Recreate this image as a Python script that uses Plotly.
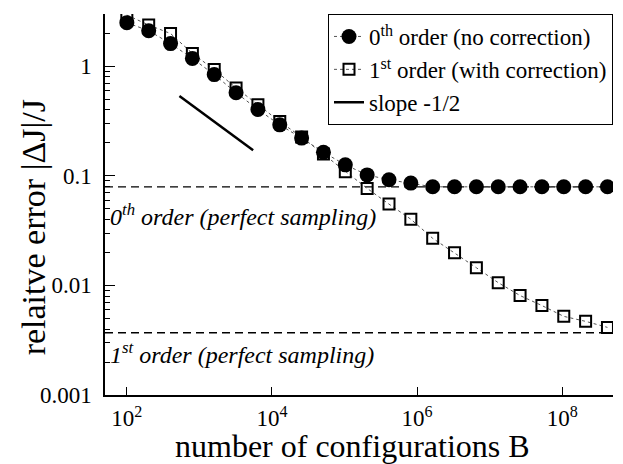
import math
import plotly.graph_objects as go

# number of configurations B
B = [100, 200, 400, 800, 1600, 3200, 6400, 12800, 25600, 51200, 102400, 204800,
     409600, 819200, 1638400, 3276800, 6553600, 13107200, 26214400, 52428800,
     104857600, 209715200, 419430400]

err_0th = [2.50, 2.11, 1.61, 1.18, 0.839, 0.574, 0.403, 0.292, 0.221, 0.164, 0.126, 0.102,
           0.092, 0.0859, 0.0794, 0.0794, 0.0794, 0.0794, 0.0794, 0.0794, 0.0794, 0.0794, 0.0794]

err_1st = [2.93, 2.38, 1.99, 1.31, 0.933, 0.634, 0.446, 0.313, 0.226, 0.158, 0.109, 0.0768,
           0.0552, 0.0402, 0.0269, 0.0199, 0.0145, 0.0106, 0.00808, 0.00655, 0.00522, 0.0047, 0.00414]

slope_x = [530, 5500]
slope_y = [0.535, 0.171]

perfect_0th = 0.0794
perfect_1st = 0.0037
x_span = [50, 5e8]

x_tickvals = [1e2, 1e4, 1e6, 1e8]
x_ticktext = ["10<sup>2</sup>", "10<sup>4</sup>", "10<sup>6</sup>", "10<sup>8</sup>"]
y_tickvals = [0.001, 0.01, 0.1, 1]
y_ticktext = ["0.001", "0.01", "0.1", "1"]

label_0th_y = 0.044
label_1st_y = 0.0024

x_title = "number of configurations B"
y_title = "relaitve error |ΔJ|/J"

FONT = "Liberation Serif, Times New Roman, Times, serif"

fig = go.Figure()

# dashed reference lines (perfect sampling)
for yv in (perfect_0th, perfect_1st):
    fig.add_trace(go.Scatter(x=x_span, y=[yv, yv], mode="lines",
                             line=dict(color="black", width=1.3, dash="8px,5px"),
                             showlegend=False, hoverinfo="skip"))

fig.add_trace(go.Scatter(
    x=B, y=err_1st, mode="lines+markers",
    name="1<sup>st</sup> order (with correction)",
    line=dict(color="#555555", width=1, dash="dot"),
    marker=dict(symbol="square-open", size=11, color="black", line=dict(width=2)),
    legendrank=2))

fig.add_trace(go.Scatter(
    x=B, y=err_0th, mode="lines+markers",
    name="0<sup>th</sup> order (no correction)",
    line=dict(color="#555555", width=1, dash="dot"),
    marker=dict(symbol="circle", size=15, color="black"),
    legendrank=1))

fig.add_trace(go.Scatter(
    x=slope_x, y=slope_y, mode="lines", name="slope -1/2",
    line=dict(color="black", width=2.5), legendrank=3))

fig.add_annotation(x=0.0, y=math.log10(label_0th_y), xref="paper", yref="y",
                   xanchor="left", yanchor="middle", xshift=3, showarrow=False,
                   text="<i>0<sup>th</sup> order (perfect sampling)</i>",
                   font=dict(family=FONT, size=24, color="black"))
fig.add_annotation(x=0.0, y=math.log10(label_1st_y), xref="paper", yref="y",
                   xanchor="left", yanchor="middle", xshift=3, showarrow=False,
                   text="<i>1<sup>st</sup> order (perfect sampling)</i>",
                   font=dict(family=FONT, size=24, color="black"))

# axis titles
fig.add_annotation(x=0.4875, y=-0.133, xref="paper", yref="paper",
                   xanchor="center", yanchor="middle", showarrow=False,
                   text=x_title, font=dict(family=FONT, size=32, color="black"))
fig.add_annotation(x=-0.1418, y=0.44, xref="paper", yref="paper",
                   xanchor="center", yanchor="middle", showarrow=False, textangle=-90,
                   text=y_title, font=dict(family=FONT, size=34, color="black"))

fig.update_layout(
    width=623, height=464,
    margin=dict(l=105, r=10, t=14, b=69),
    paper_bgcolor="white", plot_bgcolor="white",
    font=dict(family=FONT, size=23, color="black"),
    legend=dict(x=1.0, y=1.0, xanchor="right", yanchor="top",
                bordercolor="black", borderwidth=1, bgcolor="white",
                font=dict(family=FONT, size=23), traceorder="normal",
                itemwidth=30),
    xaxis=dict(type="log", range=[1.699, 8.699], automargin=False,
               tickvals=x_tickvals, ticktext=x_ticktext,
               ticks="inside", ticklen=8, tickwidth=1, tickcolor="black",
               ticklabelstandoff=2,
               showline=True, linecolor="black", linewidth=1.5,
               showgrid=False, zeroline=False, mirror=False,
               tickfont=dict(family=FONT, size=23)),
    yaxis=dict(type="log", range=[-3, 0.477], automargin=False,
               tickvals=y_tickvals, ticktext=y_ticktext,
               ticks="inside", ticklen=10, tickwidth=1, tickcolor="black",
               ticklabelstandoff=7,
               minor=dict(ticks="inside", ticklen=5, dtick="D1", tickcolor="black", showgrid=False),
               showline=True, linecolor="black", linewidth=1.5,
               showgrid=False, zeroline=False, mirror=False,
               tickfont=dict(family=FONT, size=23)),
)

fig.write_html("out.html", config={"displayModeBar": False},
               post_script="document.body.style.margin='0';")
